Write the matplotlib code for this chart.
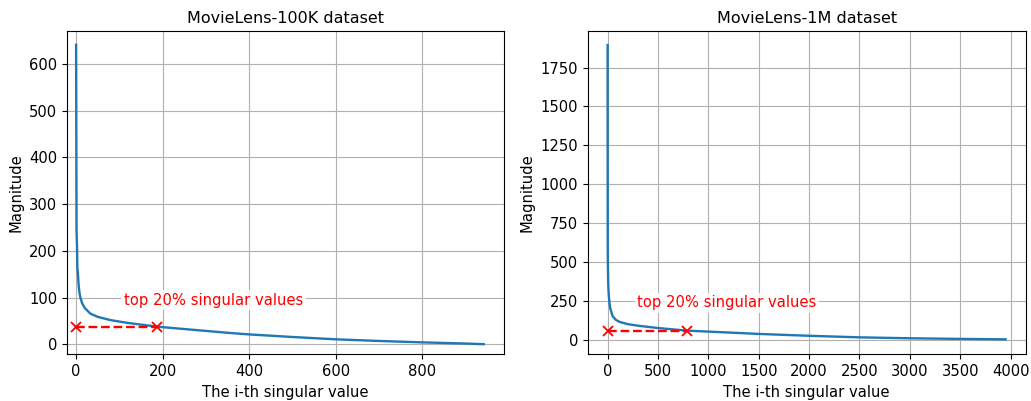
import matplotlib
matplotlib.use("Agg")
import matplotlib.pyplot as plt

# Singular value spectra (index, magnitude) of the user-item rating matrices
ml100k_idx = [0, 1, 2, 3, 4, 6, 8, 10, 14, 20, 33, 50, 80, 120, 188,
              250, 300, 350, 400, 500, 600, 700, 800, 900, 942]
ml100k_val = [641, 245, 215, 162, 155, 125, 109, 100, 88, 78, 66, 59, 52, 46, 38,
              33, 29, 25, 21.5, 16, 11, 7.5, 4.5, 2, 0.6]

ml1m_idx = [0, 1, 2, 4, 7, 12, 18, 25, 40, 50, 80, 120, 200, 300, 500,
            790, 1000, 1500, 2000, 2500, 3000, 3500, 3951]
ml1m_val = [1895, 640, 520, 420, 340, 280, 240, 205, 170, 150, 127, 113, 99, 89, 74,
            57, 51, 36, 24, 14, 8, 4, 1]

# Cut-off of the top 20% singular values for each dataset
ml100k_cut = 188
ml1m_cut = 790

titles = ["MovieLens-100K dataset", "MovieLens-1M dataset"]
annotation = "top 20% singular values"
xlabel = "The i-th singular value"
ylabel = "Magnitude"

fig = plt.figure(figsize=(10.31, 4.01), dpi=100)
ax1 = fig.add_axes([0.0650, 0.1165, 0.4239, 0.8062])
ax2 = fig.add_axes([0.5700, 0.1165, 0.4248, 0.8062])

panels = [
    (ax1, ml100k_idx, ml100k_val, ml100k_cut, (110, 95), (-21, 989), (-21, 670.5)),
    (ax2, ml1m_idx, ml1m_val, ml1m_cut, (296, 236), (-198, 4150), (-95, 1985)),
]

fs = 10.6
for ax, idx, val, cut, txt_pos, xlim, ylim in panels:
    ax.plot(idx, val, color="#1f77b4", lw=1.7, zorder=2)
    cut_val = val[idx.index(cut)]
    ax.plot([0, cut], [cut_val, cut_val], "rx--", lw=1.7, ms=7.5, mew=1.3, zorder=3)
    ax.text(txt_pos[0], txt_pos[1], annotation, color="red", fontsize=fs,
            ha="left", va="center",
            bbox=dict(facecolor="white", edgecolor="none", alpha=0.8, pad=2))
    ax.set_xlim(*xlim)
    ax.set_ylim(*ylim)
    ax.grid(True)
    ax.set_axisbelow(True)
    ax.tick_params(labelsize=fs)
    ax.set_xlabel(xlabel, fontsize=fs)
    ax.set_ylabel(ylabel, fontsize=fs)

ax1.set_title(titles[0], fontsize=11.5)
ax2.set_title(titles[1], fontsize=11.5)
ax2.set_xticks([0, 500, 1000, 1500, 2000, 2500, 3000, 3500, 4000])
ax2.set_yticks([0, 250, 500, 750, 1000, 1250, 1500, 1750])

fig.savefig("out.png", dpi=100)
